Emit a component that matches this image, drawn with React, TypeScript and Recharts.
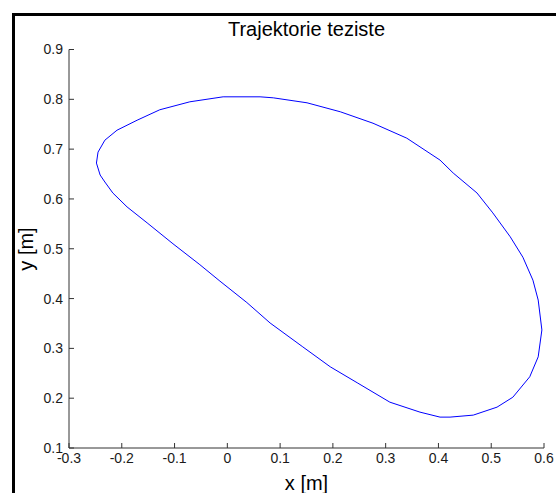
import { LineChart, Line, XAxis, YAxis } from "recharts";

// centre-of-mass trajectory (clockwise, starting at the leftmost point)
const TRAJ_X = [
  -0.248, -0.245, -0.232, -0.209, -0.171, -0.128, -0.071, -0.008, 0.024, 0.062,
  0.087, 0.151, 0.214, 0.276, 0.34, 0.403, 0.428, 0.473, 0.503, 0.536,
  0.56, 0.579, 0.589, 0.596, 0.589, 0.573, 0.541, 0.511, 0.466, 0.422,
  0.403, 0.365, 0.308, 0.246, 0.195, 0.143, 0.081, 0.037, -0.014, -0.052,
  -0.103, -0.152, -0.19, -0.217, -0.232, -0.241, -0.248,
];
const TRAJ_Y = [
  0.672, 0.694, 0.718, 0.738, 0.758, 0.779, 0.795, 0.805, 0.805, 0.805,
  0.803, 0.793, 0.775, 0.752, 0.722, 0.678, 0.652, 0.612, 0.572, 0.524,
  0.483, 0.437, 0.397, 0.337, 0.283, 0.243, 0.202, 0.182, 0.166, 0.162,
  0.162, 0.172, 0.192, 0.231, 0.263, 0.303, 0.351, 0.392, 0.435, 0.468,
  0.51, 0.552, 0.584, 0.612, 0.634, 0.648, 0.672,
];

const X_TICKS = [-0.3, -0.2, -0.1, 0, 0.1, 0.2, 0.3, 0.4, 0.5, 0.6];
const Y_TICKS = [0.1, 0.2, 0.3, 0.4, 0.5, 0.6, 0.7, 0.8, 0.9];

const TITLE = "Trajektorie teziste";
const X_LABEL = "x [m]";
const Y_LABEL = "y [m]";

const data = TRAJ_X.map((x, i) => ({ x, y: TRAJ_Y[i] }));

const FONT = "'Liberation Sans', Arial, sans-serif";
const AXIS = "#333333";
const tickStyle = { fill: "#1a1a1a", fontSize: 14, fontFamily: FONT };

export default function App() {
  return (
    <div
      style={{
        position: "absolute",
        left: 0,
        top: 0,
        width: 556,
        height: 493,
        overflow: "hidden",
        background: "#fff",
        fontFamily: FONT,
      }}
    >
      {/* figure frame, runs off the right and bottom edges */}
      <div
        style={{
          position: "absolute",
          left: 12,
          top: 13,
          width: 700,
          height: 700,
          border: "3px solid #000",
        }}
      />

      <div style={{ position: "absolute", left: 0, top: 0 }}>
        <LineChart
          width={556}
          height={493}
          data={data}
          margin={{ top: 49.5, right: 12, bottom: 15, left: 39 }}
        >
          <XAxis
            xAxisId="b"
            dataKey="x"
            type="number"
            domain={[-0.3, 0.6]}
            ticks={X_TICKS}
            allowDataOverflow
            height={30}
            tickSize={-5}
            tickMargin={10}
            stroke={AXIS}
            tick={tickStyle}
          />
          <XAxis
            xAxisId="t"
            orientation="top"
            dataKey="x"
            type="number"
            domain={[-0.3, 0.6]}
            ticks={X_TICKS}
            allowDataOverflow
            height={0}
            tickSize={-5}
            tick={false}
            stroke={AXIS}
          />
          <YAxis
            yAxisId="l"
            dataKey="y"
            type="number"
            domain={[0.1, 0.9]}
            ticks={Y_TICKS}
            allowDataOverflow
            width={30}
            tickSize={-5}
            tickMargin={11}
            stroke={AXIS}
            tick={tickStyle}
          />
          <YAxis
            yAxisId="r"
            orientation="right"
            dataKey="y"
            type="number"
            domain={[0.1, 0.9]}
            ticks={Y_TICKS}
            allowDataOverflow
            width={0}
            tickSize={-5}
            tick={false}
            stroke={AXIS}
          />
          <Line
            xAxisId="b"
            yAxisId="l"
            dataKey="y"
            type="linear"
            stroke="#0000ff"
            strokeWidth={1}
            dot={false}
            isAnimationActive={false}
          />
        </LineChart>
      </div>

      {/* title */}
      <div
        style={{
          position: "absolute",
          left: 69,
          width: 475,
          top: 17,
          textAlign: "center",
          fontSize: 20,
          lineHeight: "24px",
          color: "#000",
        }}
      >
        {TITLE}
      </div>

      {/* x label */}
      <div
        style={{
          position: "absolute",
          left: 69,
          width: 475,
          top: 471,
          textAlign: "center",
          fontSize: 20,
          lineHeight: "24px",
          color: "#000",
        }}
      >
        {X_LABEL}
      </div>

      {/* y label */}
      <div
        style={{
          position: "absolute",
          left: 26 - 40,
          top: 249 - 12,
          width: 80,
          height: 24,
          lineHeight: "24px",
          textAlign: "center",
          fontSize: 20,
          color: "#000",
          transform: "rotate(-90deg)",
        }}
      >
        {Y_LABEL}
      </div>
    </div>
  );
}
